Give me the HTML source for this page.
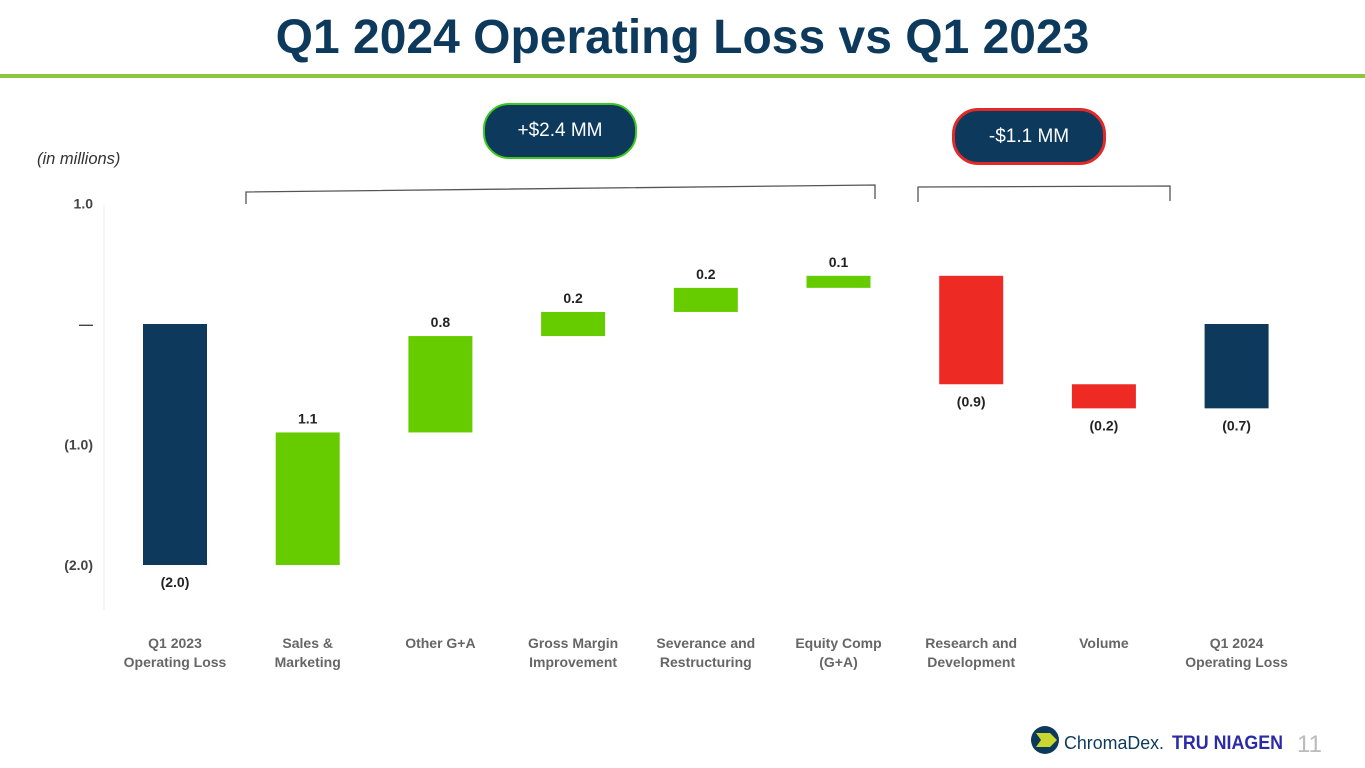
<!DOCTYPE html>
<html><head><meta charset="utf-8"><style>
html,body{margin:0;padding:0;background:#fff;}
body{width:1365px;height:768px;position:relative;overflow:hidden;font-family:"Liberation Sans",Arial,sans-serif;}
.title{position:absolute;left:0;width:1365px;top:10px;text-align:center;font-size:48px;font-weight:bold;color:#0d3a5c;}
.rule{position:absolute;left:0;top:74px;width:1365px;height:4px;background:#8cc63f;}
.pill{position:absolute;background:#0d3a5c;color:#fff;font-size:19px;text-align:center;border-radius:26px;box-sizing:border-box;}
</style></head><body>
<div class="title">Q1 2024 Operating Loss vs Q1 2023</div>
<div class="rule"></div>
<div class="pill" style="left:483px;top:103px;width:154px;height:56px;line-height:52px;border:2px solid #3cc81e;">+$2.4 MM</div>
<div class="pill" style="left:952px;top:108px;width:154px;height:57px;line-height:51px;border:3px solid #e02a2a;">-$1.1 MM</div>
<svg id="chart" width="1365" height="768" style="position:absolute;left:0;top:0">
<text x="37" y="164" font-size="16.5" font-style="italic" fill="#333">(in millions)</text>
<path d="M246,204 V192 L875,185 V199" fill="none" stroke="#555" stroke-width="1.3"/>
<path d="M918,202 V187 L1170,186 V201" fill="none" stroke="#555" stroke-width="1.3"/>
<line x1="104" y1="205" x2="104" y2="610" stroke="#eee" stroke-width="1"/>
<g id="yaxis"></g><g id="bars"></g><g id="xlabels"></g>
<g>
<circle cx="1045" cy="740" r="14" fill="#0d3a5c"/>
<path d="M1036,733 h14 l7,7 l-7,7 h-14 l5,-7z" fill="#c8d82e"/>
<text x="1064" y="749" font-size="18" fill="#0d3a5c" textLength="100" lengthAdjust="spacingAndGlyphs">ChromaDex.</text>
<text x="1172" y="749" font-size="19" font-weight="bold" fill="#2b2ba8" textLength="111" lengthAdjust="spacingAndGlyphs">TRU NIAGEN</text>
<text x="1297" y="752" font-size="24" fill="#bbb">11</text>
</g>
</svg>
<script>
const categories=[["Q1 2023","Operating Loss"],["Sales &","Marketing"],["Other G+A"],["Gross Margin","Improvement"],["Severance and","Restructuring"],["Equity Comp","(G+A)"],["Research and","Development"],["Volume"],["Q1 2024","Operating Loss"]];
const values=[-2.0,1.1,0.8,0.2,0.2,0.1,-0.9,-0.2,-0.7];
const types=["total","delta","delta","delta","delta","delta","delta","delta","total"];
const valueLabels=["(2.0)","1.1","0.8","0.2","0.2","0.1","(0.9)","(0.2)","(0.7)"];
const yTicks=[1,0,-1,-2];
const yTickLabels=["1.0","—","(1.0)","(2.0)"];
const NS="http://www.w3.org/2000/svg";
const y=v=>324-v*120.5;
const x=i=>175+i*132.7;
const bw=64;
function mk(tag,attrs,parent){const e=document.createElementNS(NS,tag);for(const k in attrs)e.setAttribute(k,attrs[k]);parent.appendChild(e);return e;}
const ya=document.getElementById('yaxis'),bg=document.getElementById('bars'),xl=document.getElementById('xlabels');
yTicks.forEach((t,i)=>{const e=mk('text',{x:93,y:y(t)+5,'text-anchor':'end','font-size':14,'font-weight':'bold',fill:'#444'},ya);e.textContent=yTickLabels[i];

});
let cum=0;
values.forEach((v,i)=>{let a,b,col;
if(types[i]==="total"){a=0;b=v;cum=v;col="#0d3a5c";}
else{a=cum;b=cum+v;cum=b;col=v>=0?"#66cc00":"#ee2a24";}
const top=y(Math.max(a,b)),bot=y(Math.min(a,b));
const r=mk('rect',{x:x(i)-bw/2,y:top,width:bw,height:bot-top,fill:col},bg);


const neg=v<0;
const ly=neg?bot+22:top-9;
const t=mk('text',{x:x(i),y:ly,'text-anchor':'middle','font-size':14,'font-weight':'bold',fill:'#222'},bg);t.textContent=valueLabels[i];


const lab=mk('text',{x:x(i),'text-anchor':'middle','font-size':14,'font-weight':'bold',fill:'#666'},xl);


categories[i].forEach((ln,j)=>{const ts=mk('tspan',{x:x(i),y:648+j*19},lab);ts.textContent=ln;});
});
</script>
</body></html>
